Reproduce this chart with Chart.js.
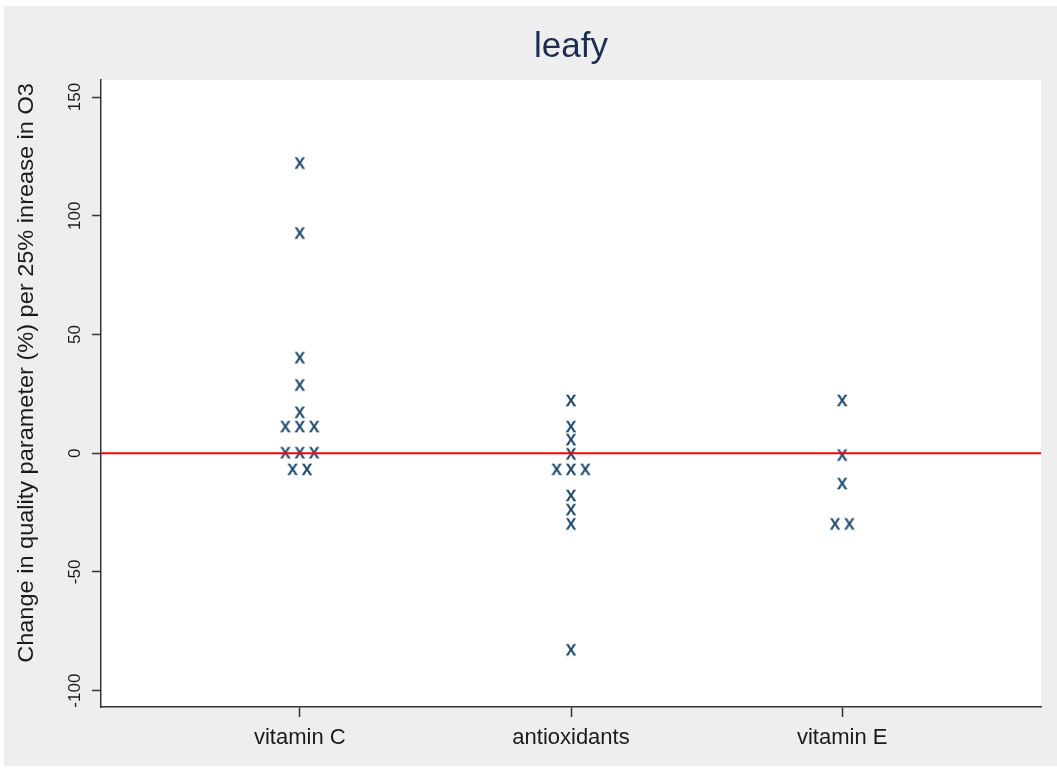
<!DOCTYPE html>
<html>
<head>
<meta charset="utf-8">
<script src="https://cdn.jsdelivr.net/npm/chart.js@4/dist/chart.umd.min.js"></script>
<style>
  html, body { margin: 0; padding: 0; background: #ffffff; }
  #panel { position: absolute; left: 4px; top: 6px; width: 1053px; height: 760px; background: #eeeeee; }
  canvas { display: block; }
</style>
</head>
<body>
<div id="panel"><canvas id="c" width="1053" height="760"></canvas></div>
<script>
// Nutrient groups along the x axis
const categories = ['vitamin C', 'antioxidants', 'vitamin E'];

// Change in quality parameter (%) per 25% increase in O3, one list per group
const vitaminC = [122, 92.5, 40, 28.5, 17, 11, 11, 11, 0, 0, 0, -7, -7];
const antioxidants = [22, 11, 5.5, -0.5, -7, -7, -7, -18, -24, -30, -83];
const vitaminE = [22, -1, -13, -30, -30];

// Value axis tick labels
const yTickValues = [-100, -50, 0, 50, 100, 150];

const titleText = 'leafy';
const yTitleText = 'Change in quality parameter (%) per 25% inrease in O3';

const FONT = "'Liberation Sans', Arial, sans-serif";
const MARKER_COLOR = '#1a476f';
const X_MIN = 0.267, X_MAX = 3.733;
const Y_MIN = -106.9, Y_MAX = 157.2;
const STACK_STEP = 0.053; // horizontal spacing between tied values

// Letter "x" used as the point marker
function makeMarker() {
  const c = document.createElement('canvas');
  c.width = 16; c.height = 16;
  const g = c.getContext('2d');
  g.font = '20px ' + FONT;
  g.fillStyle = MARKER_COLOR;
  g.strokeStyle = MARKER_COLOR;
  g.lineWidth = 0.5;
  g.textAlign = 'center';
  g.textBaseline = 'alphabetic';
  g.fillText('x', 8, 8 + 5.2);
  g.strokeText('x', 8, 8 + 5.2);
  return c;
}
const marker = makeMarker();

// Spread tied values side by side around the group's position
function toPoints(values, groupIndex) {
  const counts = {};
  values.forEach(v => { counts[v] = (counts[v] || 0) + 1; });
  const seen = {};
  return values.map(v => {
    const n = counts[v];
    const k = seen[v] = (seen[v] === undefined ? 0 : seen[v] + 1);
    return { x: groupIndex + 1 + (k - (n - 1) / 2) * STACK_STEP, y: v };
  });
}

const groups = [vitaminC, antioxidants, vitaminE];
const points = groups.flatMap((vals, i) => toPoints(vals, i));

// Vertical tick labels and rotated axis title for the value axis
const yLabelsPlugin = {
  id: 'yLabels',
  afterDraw(chart) {
    const ctx = chart.ctx;
    const ys = chart.scales.y;
    ctx.save();
    ctx.fillStyle = '#1a1a1a';
    ctx.font = '17px ' + FONT;
    ctx.textAlign = 'center';
    ctx.textBaseline = 'middle';
    yTickValues.forEach(v => {
      ctx.save();
      ctx.translate(71, ys.getPixelForValue(v));
      ctx.rotate(-Math.PI / 2);
      ctx.fillText(String(v), 0, 0);
      ctx.restore();
    });
    ctx.font = '22px ' + FONT;
    ctx.translate(23, 367);
    ctx.rotate(-Math.PI / 2);
    ctx.scale(1.07, 1);
    ctx.fillText(yTitleText, 0, 0);
    ctx.restore();
  }
};

new Chart(document.getElementById('c'), {
  type: 'scatter',
  data: {
    datasets: [
      {
        type: 'line',
        data: [{ x: X_MIN, y: 0 }, { x: X_MAX, y: 0 }],
        borderColor: '#ff0000',
        borderWidth: 2,
        pointRadius: 0,
        fill: false
      },
      {
        data: points,
        pointStyle: marker,
        pointRadius: 8,
        pointHoverRadius: 8
      }
    ]
  },
  options: {
    responsive: false,
    animation: false,
    events: [],
    layout: { padding: { left: 0, right: 16, top: 0, bottom: 0 } },
    plugins: {
      legend: { display: false },
      tooltip: { enabled: false },
      title: {
        display: true,
        text: titleText,
        fullSize: false,
        color: '#1c2d54',
        font: { family: FONT, size: 35, weight: 'normal', lineHeight: 1.2 },
        padding: { top: 20, bottom: 12 }
      }
    },
    scales: {
      x: {
        type: 'linear',
        min: X_MIN,
        max: X_MAX,
        afterBuildTicks: s => { s.ticks = categories.map((_, i) => ({ value: i + 1 })); },
        afterFit: s => { s.height = 59; },
        ticks: {
          callback: v => categories[v - 1] || '',
          color: '#1a1a1a',
          font: { family: FONT, size: 22 },
          padding: 8,
          maxRotation: 0,
          autoSkip: false
        },
        grid: { drawOnChartArea: false, drawTicks: true, tickLength: 10, tickColor: '#333333', tickWidth: 1.5 },
        border: { display: true, color: '#333333', width: 1.5 }
      },
      y: {
        type: 'linear',
        min: Y_MIN,
        max: Y_MAX,
        afterBuildTicks: s => { s.ticks = yTickValues.map(v => ({ value: v })); },
        afterFit: s => { s.width = 97; },
        ticks: { display: false },
        grid: { drawOnChartArea: false, drawTicks: true, tickLength: 9, tickColor: '#333333', tickWidth: 1.5 },
        border: { display: true, color: '#333333', width: 1.5 }
      }
    }
  },
  plugins: [{
    id: 'plotBg',
    beforeDraw(chart) {
      const a = chart.chartArea, ctx = chart.ctx;
      ctx.save();
      ctx.fillStyle = '#ffffff';
      ctx.fillRect(a.left, a.top, a.right - a.left, a.bottom - a.top);
      ctx.restore();
    }
  }, yLabelsPlugin]
});
</script>
</body>
</html>
